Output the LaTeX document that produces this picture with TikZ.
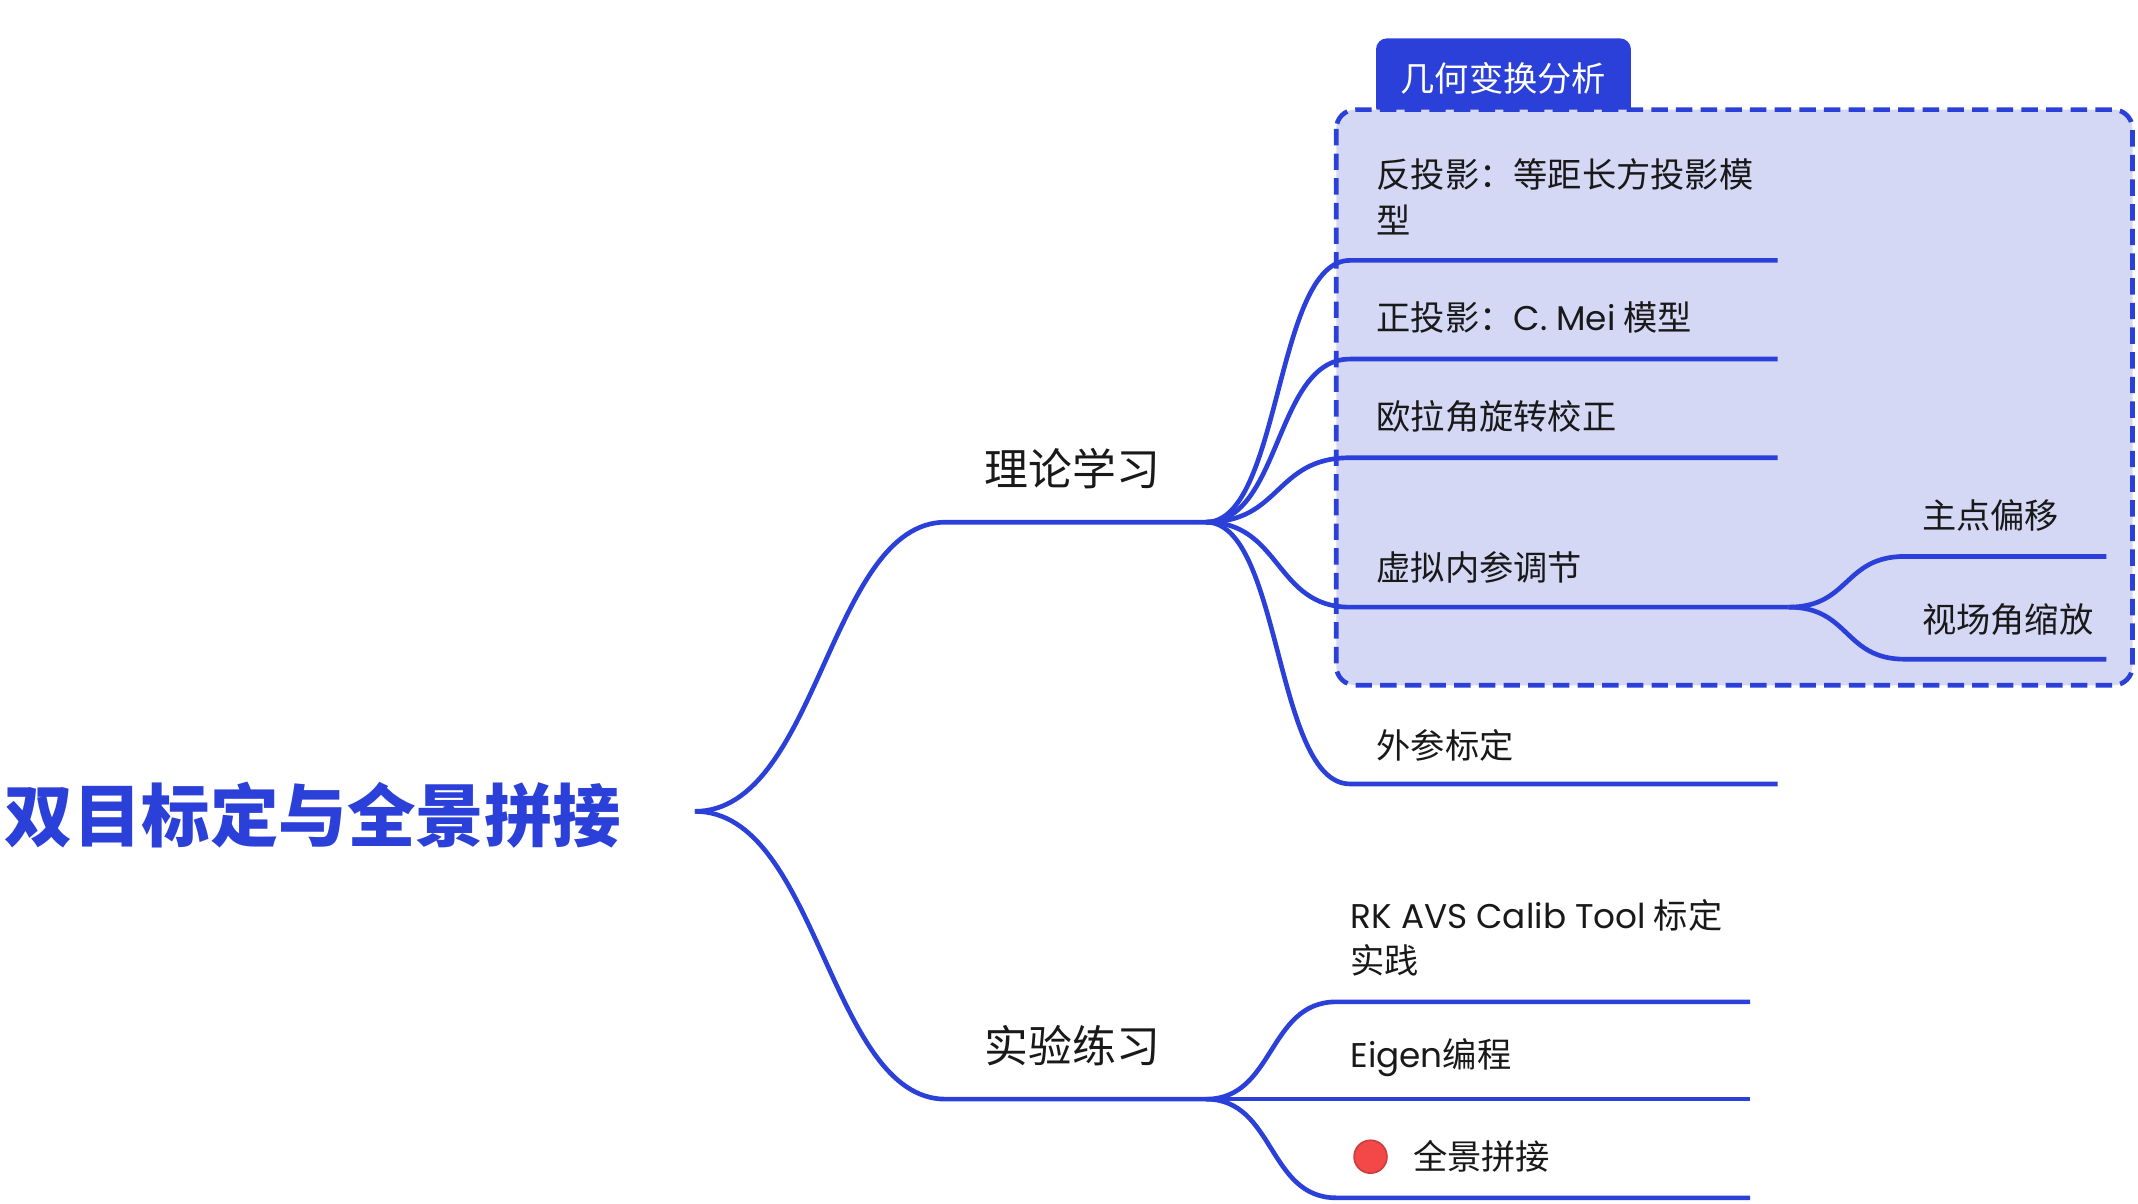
\documentclass[tikz,border=0pt]{standalone}
\usepackage{fontspec}
\setmainfont{Noto Sans CJK SC}
\newfontfamily\latinfont{Poppins}
\usepackage{tikz}
\usetikzlibrary{calc}
\usetikzlibrary{positioning}
\definecolor{mapblue}{HTML}{2B3FD9}
\definecolor{boxfill}{HTML}{D4D8F5}
\definecolor{dotred}{HTML}{F24848}

\begin{document}
\begin{tikzpicture}
		[
		x=0.5pt, y=-0.5pt,
		font=\fontsize{12.5}{16.5}\selectfont,
		branch/.style={draw=mapblue, line width=1.7pt}
		]
		
		% Node styles: root, main topics and topics
		\tikzstyle{root node}=[anchor=west, inner sep=0, text=mapblue, font=\fontsize{25}{30}\selectfont\bfseries];
		\tikzstyle{main node}=[anchor=west, inner sep=0, text=black!90, font=\fontsize{16}{20}\selectfont];
		\tikzstyle{topic node}=[anchor=west, inner sep=0, align=left, text=black!90];
		\tikzstyle{group box}=[draw=mapblue, fill=boxfill, dash pattern=on 6pt off 3pt, rounded corners=7pt, line width=1.7pt];
		
		\useasboundingbox (0,0) rectangle (1560,878.5);
		
		% The group box and its tab
		\node(tab)[fill=mapblue, rounded corners=4pt, minimum width=93pt, minimum height=29pt, text=white] at (1097,57){几何变换分析};
		\draw[group box] (975,80) rectangle (1556,500);
		
		% The root
		\node(0)[root node] at (3,595){双目标定与全景拼接};
		\coordinate(0-out) at (507,592);
		
		% Main topics
		\coordinate(1-a) at (690,381);
		\coordinate(1-b) at (880,381);
		\coordinate(2-a) at (690,802);
		\coordinate(2-b) at (880,802);
		\foreach\x in {1,2}\draw[branch](0-out) .. controls +(90,0) and +(-85,0) .. (\x-a) -- (\x-b);
		\node(1)[main node] at (718,342){理论学习};
		\node(2)[main node] at (718,763){实验练习};
		
		% Topics of 1
		\foreach\x/\y/\e in {1/190/1297, 2/262/1297, 3/334/1297, 4/443/1305, 5/572/1297}
		{
			\coordinate(1-\x-a) at (985,\y);
			\coordinate(1-\x-b) at (\e,\y);
			\draw[branch](1-b) .. controls +(55,0) and +(-55,0) .. (1-\x-a) -- (1-\x-b);
		}
		\node(1-1)[topic node] at (1004,143.5){反投影：等距长方投影模\\型};
		\node(1-2)[topic node] at (1004,232){正投影：{\latinfont C. Mei} 模型};
		\node(1-3)[topic node] at (1004,304){欧拉角旋转校正};
		\node(1-4)[topic node] at (1004,414){虚拟内参调节};
		\node(1-5)[topic node] at (1004,544){外参标定};
		
		% Topics of 1-4
		\foreach\x/\y in {1/406, 2/481}
		{
			\coordinate(1-4-\x-a) at (1390,\y);
			\coordinate(1-4-\x-b) at (1537,\y);
			\draw[branch](1-4-b) .. controls +(45,0) and +(-45,0) .. (1-4-\x-a) -- (1-4-\x-b);
		}
		\node(1-4-1)[topic node] at (1402,376){主点偏移};
		\node(1-4-2)[topic node] at (1402,452){视场角缩放};
		
		% Topics of 2
		\foreach\x/\y in {1/731, 3/874}
		{
			\coordinate(2-\x-a) at (975,\y);
			\coordinate(2-\x-b) at (1277,\y);
			\draw[branch](2-b) .. controls +(50,0) and +(-50,0) .. (2-\x-a) -- (2-\x-b);
		}
		\coordinate(2-2-b) at (1277,802);
		\draw[branch](2-b) -- (2-2-b);
		\node(2-1)[topic node] at (985,684.5){{\latinfont RK AVS Calib Tool} 标定\\实践};
		\node(2-2)[topic node] at (985,772){{\latinfont Eigen}编程};
		\node(dot)[circle, fill=dotred, draw=dotred!85!black, line width=0.6pt, minimum size=12pt, inner sep=0] at (1000,844){};
		\node(2-3)[topic node, right=9pt of dot] {全景拼接};
		
\end{tikzpicture}
\end{document}
